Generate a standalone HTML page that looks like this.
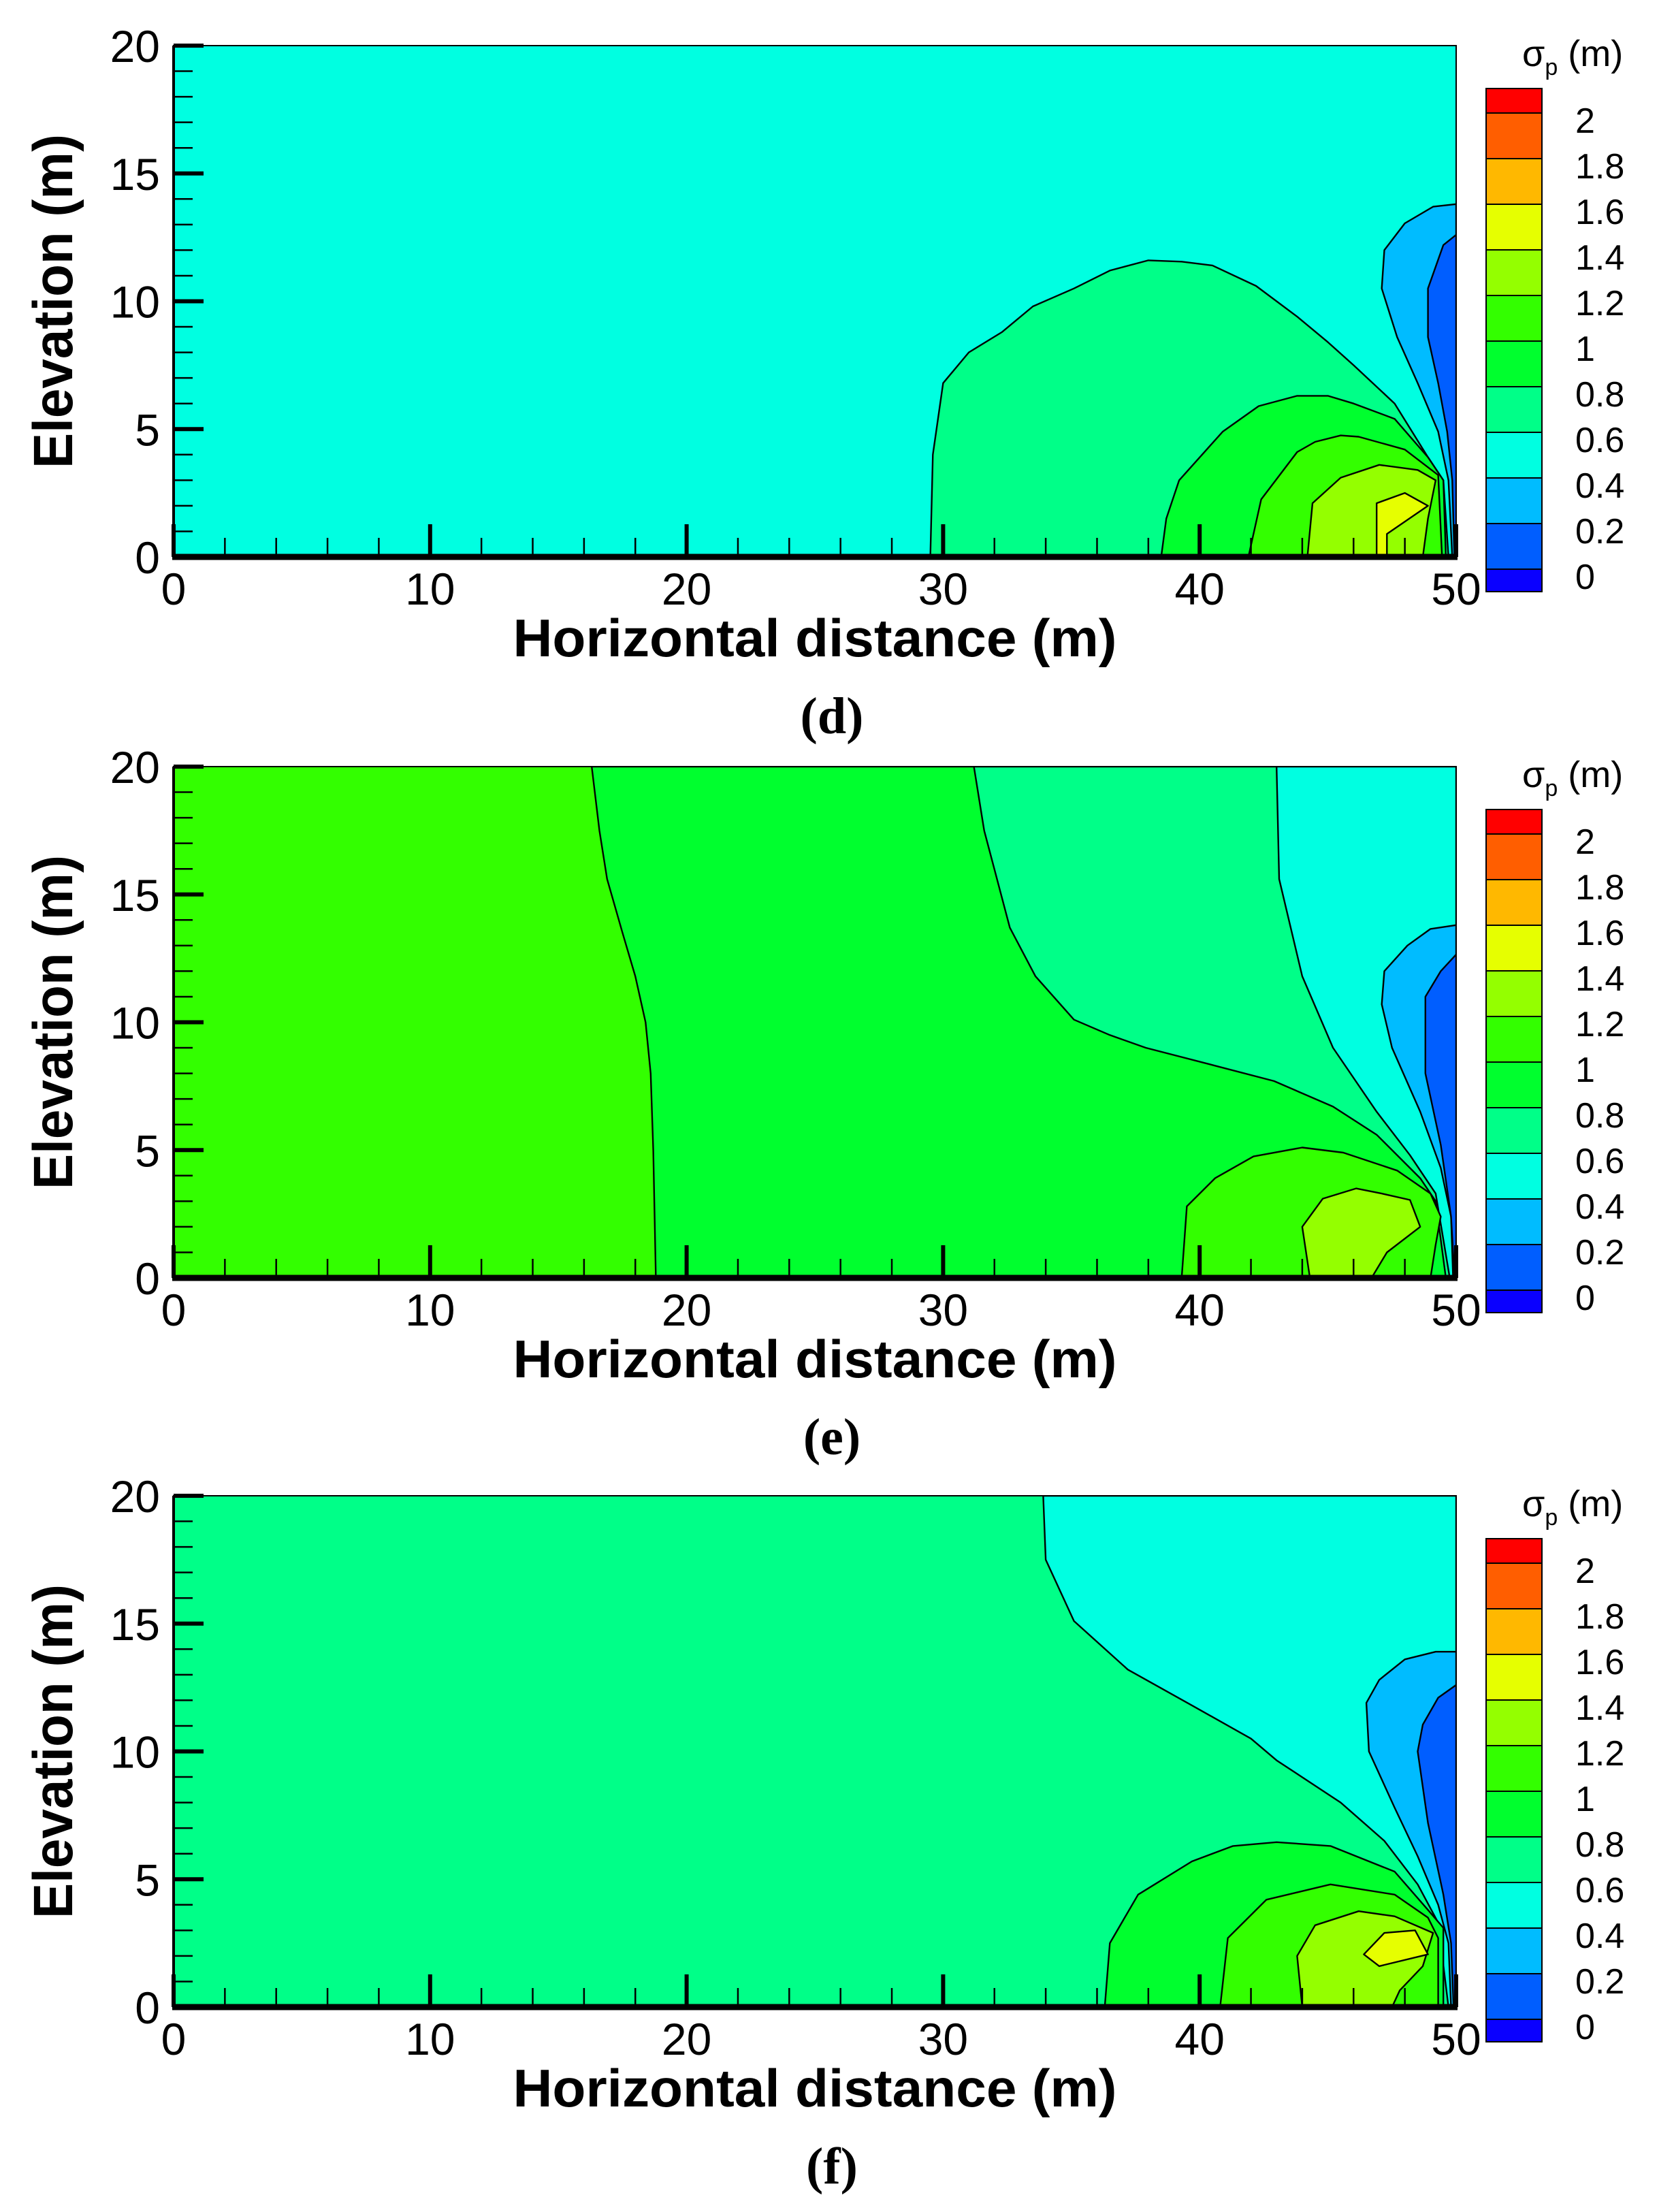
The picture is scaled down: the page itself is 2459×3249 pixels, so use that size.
<!DOCTYPE html>
<html><head><meta charset="utf-8"><title>σp contour panels</title>
<style>
html,body{margin:0;padding:0;background:#fff;}
svg{display:block;}
</style></head>
<body>
<svg id="fig" width="2459" height="3249" viewBox="0 0 2459 3249" xmlns="http://www.w3.org/2000/svg"></svg>
<script>
// ---- data ----
const levels = [0, 0.2, 0.4, 0.6, 0.8, 1, 1.2, 1.4, 1.6, 1.8, 2];
const levelLabels = ["0","0.2","0.4","0.6","0.8","1","1.2","1.4","1.6","1.8","2"];
const bandColors = ["#0A00FF","#005EFF","#00BCFF","#00FFE1","#00FF88","#00FF2E","#33FF00","#94FF00","#E6FF00","#FFB800","#FF5E00","#FF0000"];
const xTicks = [0, 10, 20, 30, 40, 50];
const yTicks = [0, 5, 10, 15, 20];
const panelNames = ["d", "e", "f"];
const panelBg = [3, 6, 4];

// panel d contour regions (band index, polygon in metres)
const dBands = [2, 1, 4, 5, 6, 7, 8];
const dRegions = [
 [[50,13.8],[49.1,13.7],[48.0,13.05],[47.2,12.0],[47.1,10.5],[47.7,8.6],[48.5,6.8],[49.3,4.9],[49.7,3.0],[49.85,0],[50,0]],
 [[50,12.6],[49.5,12.2],[48.9,10.5],[48.9,8.6],[49.3,6.8],[49.65,4.9],[49.85,3],[49.93,0],[50,0]],
 [[29.5,0],[29.6,4],[30.0,6.8],[31,8],[32.3,8.8],[33.5,9.8],[35.1,10.5],[36.5,11.2],[38.0,11.6],[39.3,11.55],[40.5,11.4],[42.2,10.6],[43.8,9.4],[45,8.4],[46.0,7.5],[47.6,6.0],[48.9,3.9],[49.5,3.0],[49.7,0]],
 [[38.5,0],[38.7,1.5],[39.2,3.0],[40.9,4.9],[42.3,5.9],[43.8,6.3],[45,6.3],[46,6.0],[47.6,5.4],[48.9,3.9],[49.5,3.0],[49.6,0]],
 [[41.9,0],[42.4,2.25],[43.8,4.1],[44.5,4.5],[45.5,4.75],[46.2,4.7],[48.0,4.2],[49.3,3.2],[49.45,0]],
 [[44.2,0],[44.4,2.1],[45.5,3.1],[47,3.6],[48.5,3.4],[49.2,3.0],[48.9,1.5],[48.7,0]],
 [[46.9,0],[46.9,2.1],[48,2.5],[48.9,2.0],[47.3,0.9],[47.3,0]]
];
// panel e
const eBands = [5, 4, 3, 2, 1, 6, 7];
const eRegions = [
 [[16.3,20],[16.6,17.5],[16.9,15.6],[17.5,13.5],[18.0,11.8],[18.4,10],[18.6,8.0],[18.7,5],[18.8,0],[50,0],[50,20]],
 [[31.2,20],[31.6,17.5],[32.6,13.7],[33.6,11.8],[35.1,10.1],[36.5,9.5],[37.9,9.0],[40.6,8.3],[42.9,7.7],[45.2,6.7],[46.9,5.6],[48.6,3.9],[49.2,3.0],[49.6,0],[50,0],[50,20]],
 [[43.0,20],[43.1,15.6],[44.0,11.8],[45.2,9.0],[46.9,6.5],[48.2,4.8],[49.2,3.3],[49.75,0],[50,0],[50,20]],
 [[50,13.8],[49,13.65],[48.1,13.0],[47.2,12.0],[47.1,10.7],[47.5,9.0],[48.6,6.5],[49.4,4.3],[49.8,2.4],[49.88,0],[50,0]],
 [[50,12.65],[49.4,12.0],[48.8,11.0],[48.8,8.0],[49.4,5.2],[49.8,2.4],[49.94,0],[50,0]],
 [[39.3,0],[39.5,2.8],[40.6,3.9],[42.1,4.75],[44.0,5.1],[45.6,4.9],[47.7,4.2],[49.0,3.3],[49.4,2.4],[49.2,1.3],[49.0,0]],
 [[44.3,0],[44.0,2.0],[44.8,3.1],[46.1,3.5],[47.1,3.3],[48.2,3.05],[48.6,2.0],[47.3,1.0],[46.7,0]]
];
// panel f
const fBands = [3, 2, 1, 5, 6, 7, 8];
const fRegions = [
 [[33.9,20],[34.0,17.5],[35.1,15.1],[37.2,13.2],[39.7,11.8],[42.0,10.5],[43.0,9.65],[45.5,8.0],[47.2,6.5],[48.5,4.8],[49.3,3.3],[49.7,0],[50,0],[50,20]],
 [[50,13.9],[49.2,13.9],[48.0,13.6],[47.0,12.8],[46.5,11.9],[46.6,10.0],[47.6,7.8],[48.5,5.9],[49.3,4.0],[49.7,2.5],[49.8,0],[50,0]],
 [[50,12.6],[49.3,12.1],[48.7,11.05],[48.5,10.0],[48.9,7.2],[49.5,4.4],[49.8,2.5],[49.9,0],[50,0]],
 [[36.3,0],[36.5,2.5],[37.6,4.4],[39.7,5.7],[41.3,6.3],[43.0,6.45],[45.1,6.3],[47.6,5.3],[48.9,3.8],[49.5,3.1],[49.5,0]],
 [[40.8,0],[41.1,2.7],[42.6,4.2],[45.1,4.8],[47.6,4.4],[48.9,3.5],[49.3,2.7],[49.3,0]],
 [[44.0,0],[43.8,2.0],[44.5,3.2],[46.2,3.75],[47.6,3.55],[49.1,2.9],[48.7,1.6],[47.8,0.65],[47.5,0]],
 [[46.4,2.06],[47.2,2.9],[48.4,3.0],[48.9,2.06],[47.0,1.6]]
];
const allBands = [dBands, eBands, fBands];
const allRegions = [dRegions, eRegions, fRegions];

// ---- layout ----
const NS = "http://www.w3.org/2000/svg";
const svg = document.getElementById("fig");
const frameTops = [67, 1126, 2197];
const L = 255, R = 2139, H = 751;
function el(tag, attrs, parent) {
  const e = document.createElementNS(NS, tag);
  for (const k in attrs) e.setAttribute(k, attrs[k]);
  (parent || svg).appendChild(e);
  return e;
}

panelNames.forEach((pn, pi) => {
  const top = frameTops[pi], bot = top + H;
  const sx = v => L + v / 50 * (R - L);
  const sy = v => bot - v / 20 * H;
  const g = el("g", {});
  
  

  const cp = el("clipPath", {id: "clip" + pi}, g);
  el("rect", {x: L, y: top, width: R - L, height: H}, cp);

  const bg = el("rect", {x: L, y: top, width: R - L, height: H, fill: bandColors[panelBg[pi]]}, g);
  
  

  const cg = el("g", {"clip-path": "url(#clip" + pi + ")"}, g);
  allRegions[pi].forEach((poly, ri) => {
    const d = poly.map((p, i) => (i ? "L" : "M") + sx(p[0]).toFixed(1) + "," + sy(p[1]).toFixed(1)).join(" ") + " Z";
    const path = el("path", {d: d, fill: bandColors[allBands[pi][ri]], stroke: "#000", "stroke-width": 2.4, "stroke-linejoin": "round"}, cg);
    
    
  });

  // frame
  const fr = el("rect", {x: L, y: top, width: R - L, height: H, fill: "none", stroke: "#000", "stroke-width": 2}, g);
  
  
  const xa = el("line", {x1: L - 2, y1: bot, x2: R + 2, y2: bot, stroke: "#000", "stroke-width": 9}, g);
  
  
  const ya = el("line", {x1: L, y1: top, x2: L, y2: bot, stroke: "#000", "stroke-width": 4}, g);
  
  

  // x ticks
  for (let v = 0; v <= 50; v += 2) {
    const major = v % 10 === 0;
    const t = el("line", {x1: sx(v), y1: bot, x2: sx(v), y2: bot - (major ? 48 : 28), stroke: "#000", "stroke-width": major ? 6 : 2.5}, g);
    
    
  }
  xTicks.forEach(v => {
    const t = el("text", {x: sx(v), y: bot + 70, "text-anchor": "middle", "font-family": "Liberation Sans, sans-serif", "font-size": 66}, g);
    t.textContent = String(v);
    
    
  });
  // y ticks
  for (let v = 0; v <= 20; v += 1) {
    const major = v % 5 === 0;
    const t = el("line", {x1: L, y1: sy(v), x2: L + (major ? 44 : 28), y2: sy(v), stroke: "#000", "stroke-width": major ? 6 : 2.5}, g);
    
    
  }
  yTicks.forEach(v => {
    const t = el("text", {x: 235, y: sy(v) + 24, "text-anchor": "end", "font-family": "Liberation Sans, sans-serif", "font-size": 66}, g);
    t.textContent = String(v);
    
    
  });
  // titles
  const xt = el("text", {x: 1197, y: bot + 146, "text-anchor": "middle", "font-family": "Liberation Sans, sans-serif", "font-weight": "bold", "font-size": 78, textLength: 887, lengthAdjust: "spacingAndGlyphs"}, g);
  xt.textContent = "Horizontal distance (m)";
  
  
  const cy = (top + bot) / 2;
  const yt = el("text", {x: 0, y: 0, transform: "translate(106," + cy + ") rotate(-90)", "text-anchor": "middle", "font-family": "Liberation Sans, sans-serif", "font-weight": "bold", "font-size": 82, textLength: 491, lengthAdjust: "spacingAndGlyphs"}, g);
  yt.textContent = "Elevation (m)";
  
  
  const cap = el("text", {x: 1222, y: bot + 259, "text-anchor": "middle", "font-family": "Liberation Serif, serif", "font-weight": "bold", "font-size": 76}, g);
  cap.textContent = "(" + pn + ")";
  
  

  // colorbar
  const cbTop = top + 63, step = 67, first = cbTop + 36;
  const boundaryY = i => first + (levels.length - 1 - i) * step; // y of level i
  const cbBottom = boundaryY(0) + 33;
  const cbX = 2193, cbW = 82;
  for (let b = 0; b < bandColors.length; b++) {
    const y1 = b === bandColors.length - 1 ? cbTop : boundaryY(b);
    const y2 = b === 0 ? cbBottom : boundaryY(b - 1);
    const r = el("rect", {x: cbX - 10, y: y1, width: cbW, height: y2 - y1, fill: bandColors[b], stroke: "#000", "stroke-width": 2}, g);
    
    
  }
  levelLabels.forEach((lab, i) => {
    const t = el("text", {x: 2314, y: boundaryY(i) + 29, "font-family": "Liberation Sans, sans-serif", "font-size": 52}, g);
    t.textContent = lab;
    
    
  });
  const ct = el("text", {x: 2236, y: top + 30, "font-family": "Liberation Sans, sans-serif", "font-size": 54}, g);
  
  
  const s1 = el("tspan", {}, ct); s1.textContent = "σ";
  const s2 = el("tspan", {dy: 13, "font-size": 34}, ct); s2.textContent = "p";
  const s3 = el("tspan", {dy: -13}, ct); s3.textContent = " (m)";
});
</script>
</body></html>
